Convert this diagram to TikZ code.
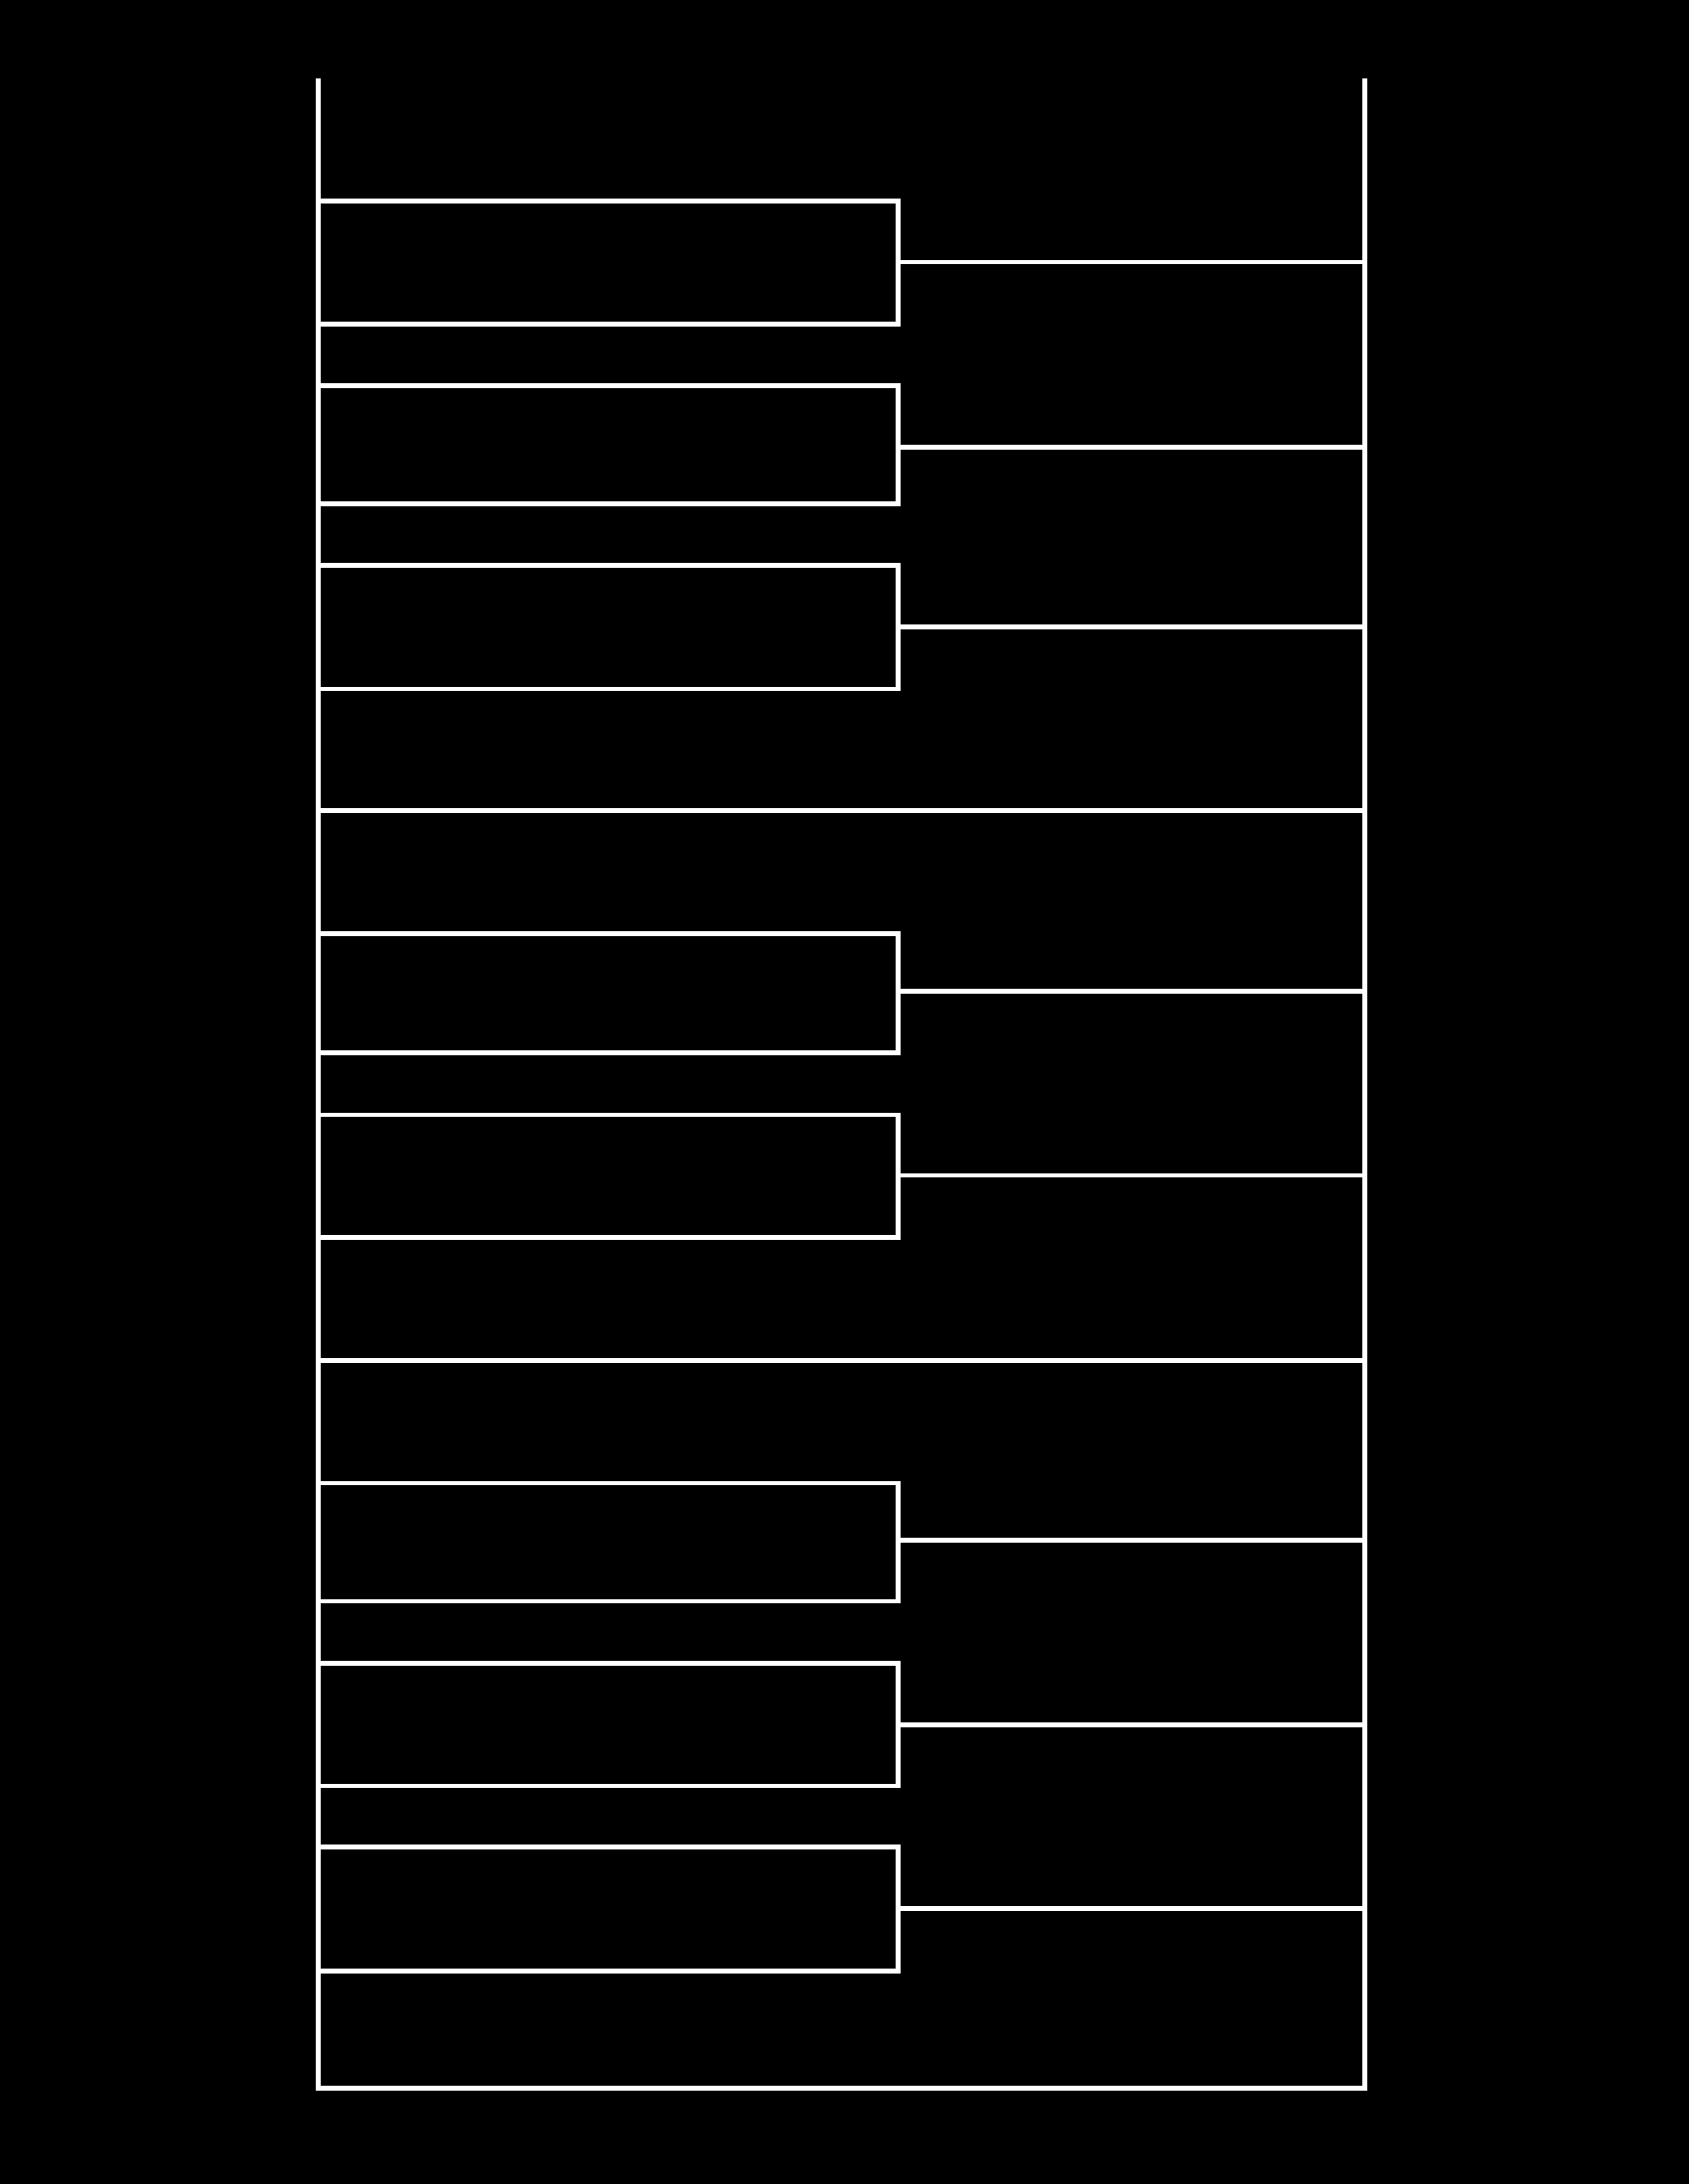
\documentclass[tikz,border=0pt]{standalone}
\begin{document}
\begin{tikzpicture}[x=1pt,y=-1pt,
  wire/.style={draw=white,line width=4.8pt,line join=miter}]
\useasboundingbox (0,0) rectangle (1700,2200);
\fill[black] (-10,-10) rectangle (1710,2210);
% rails
\coordinate (lt) at (320.5,79);
\coordinate (lb) at (320.5,2103.5);
\coordinate (rb) at (1374.5,2103.5);
\coordinate (rt) at (1374.5,79);
\draw[wire] (lt) -- (lb) -- (rb) -- (rt);
% full cross lines
\foreach \y [count=\i] in {816.5,1370.5}{
  \draw[wire] (320.5,\y) coordinate (fl\i) -- (1374.5,\y) coordinate (fr\i);
}
% boxes with connectors
\foreach \t/\b/\m [count=\i] in {202.5/326.5/264,388.5/507.5/450.5,569.5/694/631.5,940.5/1060.5/998.5,1123/1246.5/1184,1494/1613/1551.5,1675.5/1799/1737.5,1860.5/1985.5/1922.5}{
  \draw[wire] (320.5,\t) -- (904.5,\t) -- (904.5,\b) -- (320.5,\b);
  \coordinate (bm\i) at (904.5,\m);
  \coordinate (rm\i) at (1374.5,\m);
  \draw[wire] (bm\i) -- (rm\i);
}
\end{tikzpicture}
\end{document}
